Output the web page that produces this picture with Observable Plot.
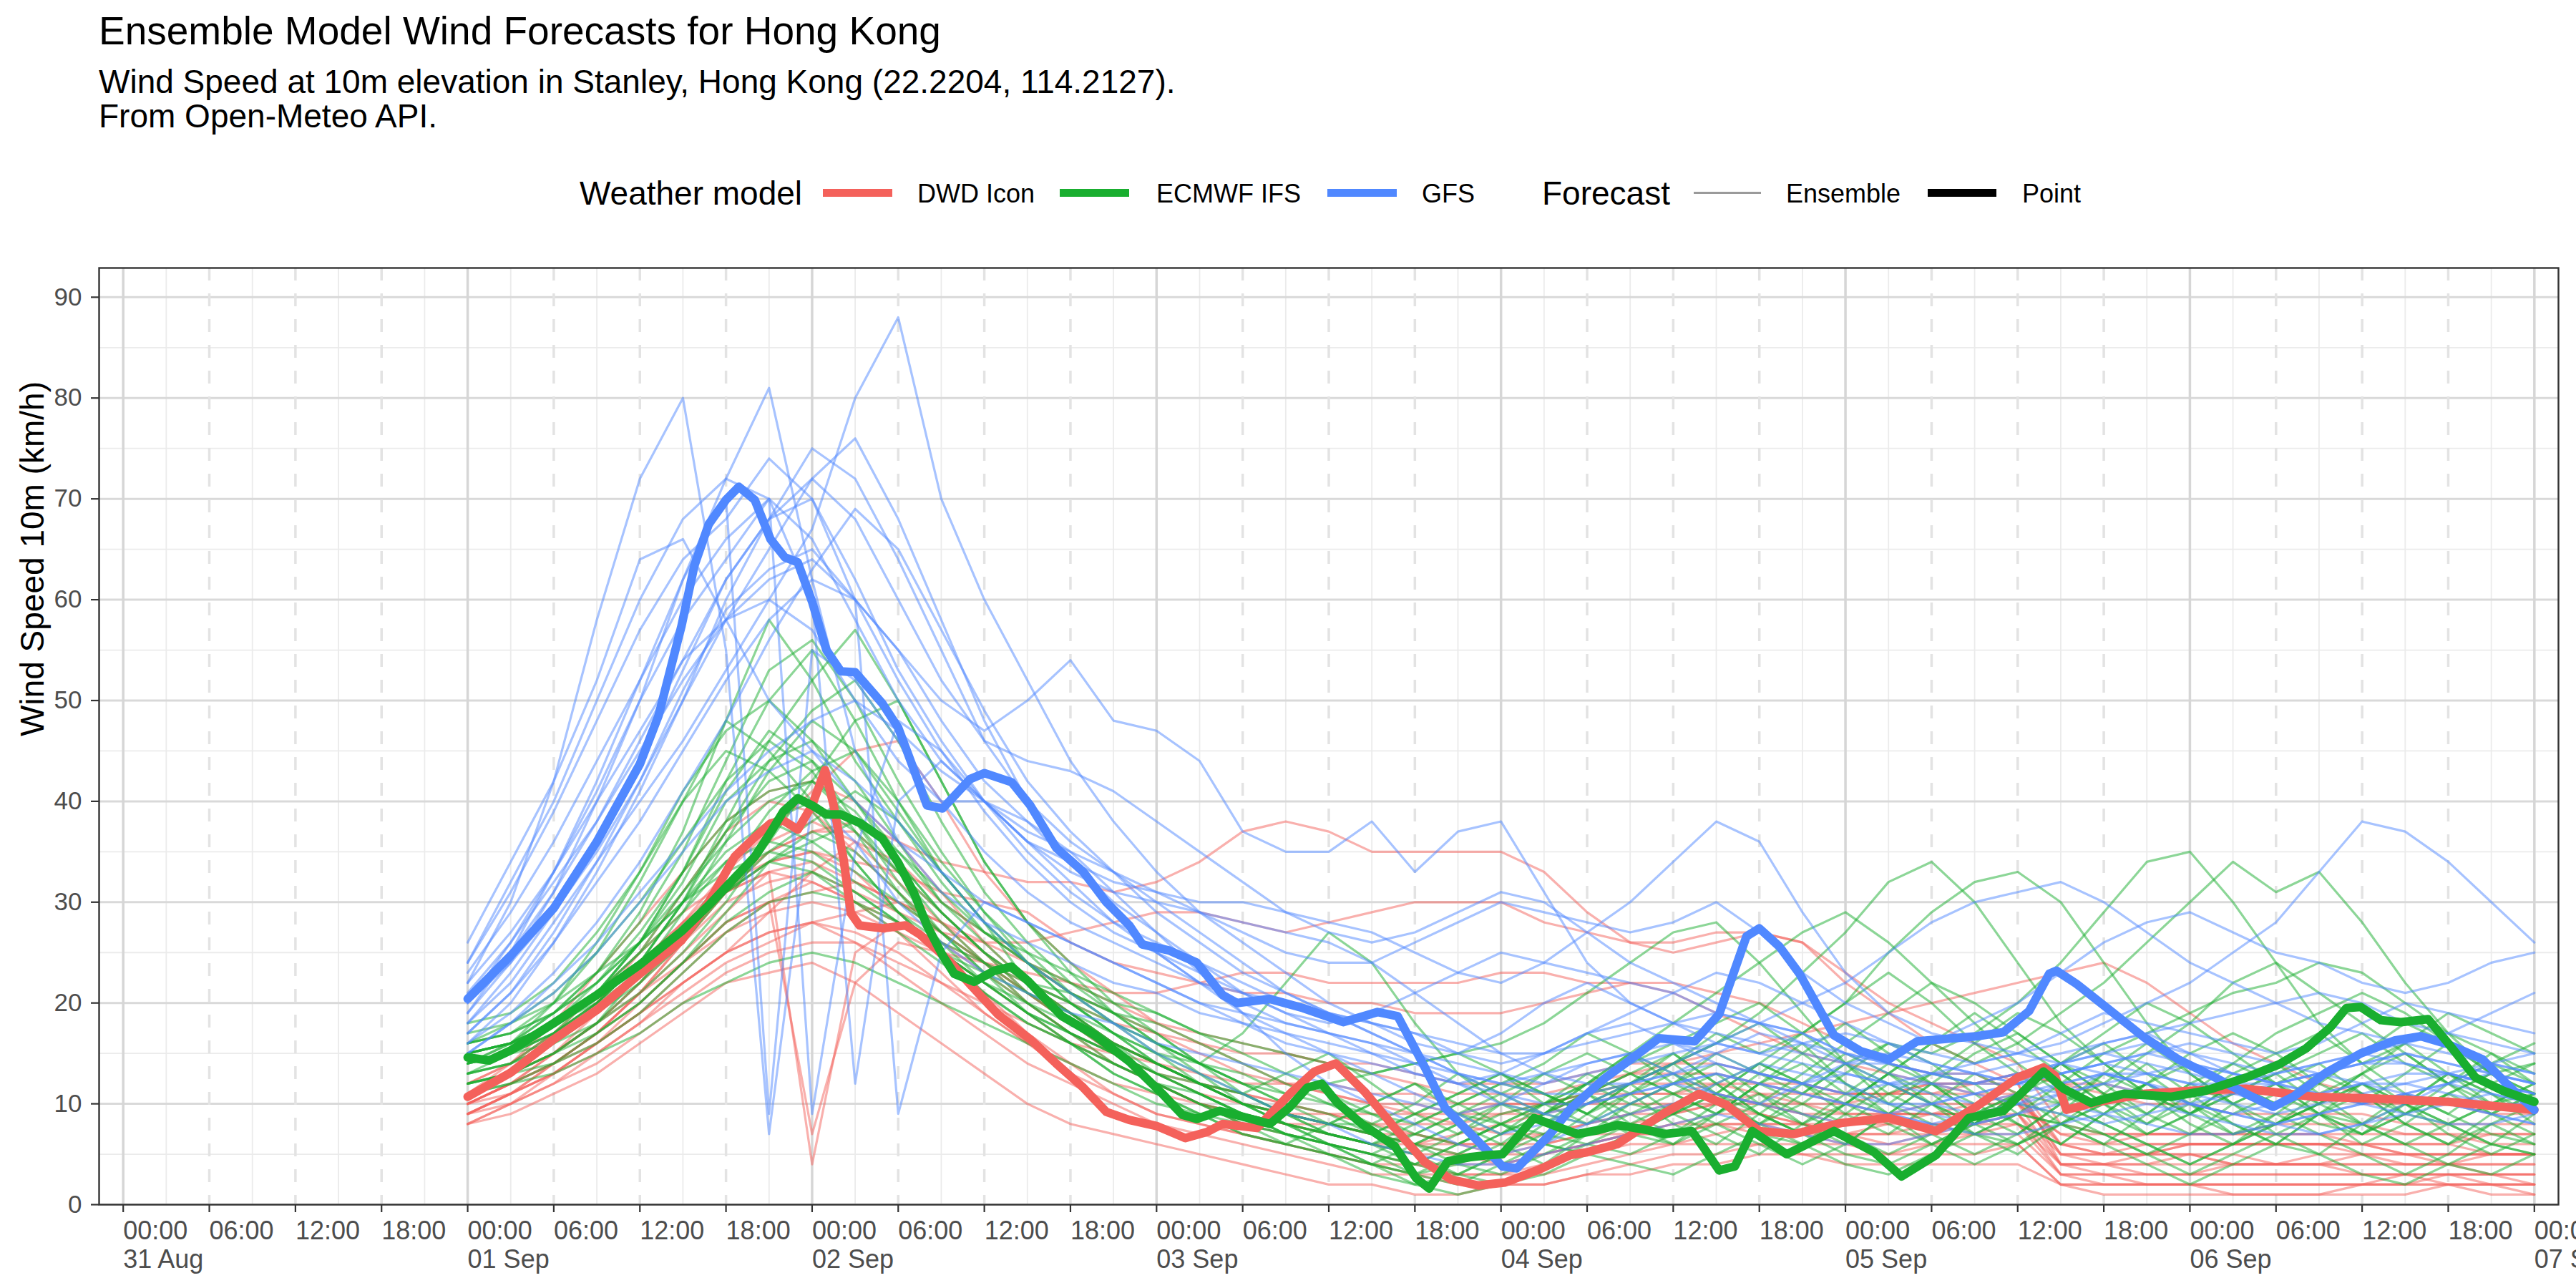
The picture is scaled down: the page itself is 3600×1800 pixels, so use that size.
<!DOCTYPE html>
<html>
<head>
<meta charset="utf-8">
<script src="https://cdn.jsdelivr.net/npm/d3@7"></script>
<script src="https://cdn.jsdelivr.net/npm/@observablehq/plot@0.6"></script>
<style>
  html, body { margin:0; padding:0; background:#fff; overflow:hidden; }
  #page { position:relative; width:3600px; height:1800px; font-family:"Liberation Sans", Arial, Helvetica, sans-serif; color:#000; }
  #header { position:relative; width:3600px; height:330px; }
  .t { position:absolute; white-space:nowrap; line-height:1; }
  .sw { position:absolute; }
  #chart svg { display:block; }
</style>
</head>
<body>
<div id="page">
  <div id="header"></div>
  <div id="chart"></div>
</div>
<script>
// ---------------- Texts ----------------
const titleText = "Ensemble Model Wind Forecasts for Hong Kong";
const subtitleLines = ["Wind Speed at 10m elevation in Stanley, Hong Kong (22.2204, 114.2127).", "From Open-Meteo API."];
const yAxisTitle = "Wind Speed 10m (km/h)";
const modelLegendTitle = "Weather model";
const forecastLegendTitle = "Forecast";

// ---------------- Categories ----------------
const models = ["DWD Icon", "ECMWF IFS", "GFS"];
const modelColors = ["#F4615B", "#19AE2F", "#5088FF"];
const forecastTypes = ["Ensemble", "Point"];
const yTicks = [0, 10, 20, 30, 40, 50, 60, 70, 80, 90];

// Ensemble members: 3-hourly values from 01 Sep 00:00 to 07 Sep 00:00 (km/h)
const ensembleHours = [0,3,6,9,12,15,18,21,24,27,30,33,36,39,42,45,48,51,54,57,60,63,66,69,72,75,78,81,84,87,90,93,96,99,102,105,108,111,114,117,120,123,126,129,132,135,138,141,144];

const dwdEnsemble = [
  [10,12,15,19,23,28,33, 37,41,45,46,40,33,28, 24,21,18,16,14,12,11, 10,9,8,7,7,8,9, 10,11,10,9,8,8,9, 10,11,5,4,4,5,5, 4,4,5,5,4,4,4],
  [11,13,16,20,24,28,32, 35,37,38,36,34,33,32, 32,31,32,34,37,38,37, 35,35,35,35,33,29,26, 26,27,27,26,22,19,16, 14,12,6,5,5,5,4, 4,4,4,4,4,3,3],
  [9,11,14,17,21,25,29, 33,4,25,28,26,23,20, 17,15,13,12,10,9,8, 7,6,5,5,6,7,7, 8,8,7,7,6,6,7, 7,7,3,3,2,2,2, 2,2,2,3,3,2,2],
  [10,12,14,17,20,24,28, 30,7,22,26,25,22,19, 16,14,12,10,9,8,8, 7,7,6,6,7,8,9, 9,10,9,8,8,9,10, 10,10,4,4,5,5,4, 4,5,5,4,4,5,5],
  [12,14,17,21,25,29,32, 34,35,34,33,31,30,29, 26,24,23,22,21,21,20, 20,19,19,19,20,21,22, 22,21,20,18,16,14,13, 13,11,6,5,5,6,6, 6,6,5,5,5,5,5],
  [11,13,15,18,21,24,27, 29,30,29,27,25,24,23, 22,21,21,22,23,23,22, 22,22,22,23,23,22,22, 21,19,17,15,14,13,12, 11,10,7,6,6,6,6, 6,6,6,6,6,5,5],
  [9,11,13,16,19,22,25, 27,28,27,25,22,19,16, 14,12,11,10,9,8,7, 6,6,7,8,9,11,13, 14,15,16,17,18,19,20, 21,22,23,24,22,19,16, 14,12,11,10,10,9,9],
  [10,12,15,18,22,27,31, 34,35,33,29,25,21,17, 14,11,9,8,7,6,5, 4,3,3,3,4,5,6, 6,7,8,8,7,7,8, 8,9,3,2,2,2,2, 2,2,2,2,3,3,2],
  [9,11,13,16,20,24,28, 30,31,32,30,27,24,21, 18,15,12,10,8,7,6, 5,4,4,4,5,6,7, 8,9,9,8,7,6,6, 7,8,4,4,3,3,4, 4,4,3,3,3,3,3],
  [11,13,16,20,25,31,37, 40,39,35,31,27,24,21, 18,16,14,12,11,10,9, 8,7,6,6,6,7,8, 9,10,11,11,10,9,9, 9,10,6,6,7,7,7, 7,7,6,6,6,7,7],
  [8,10,12,15,18,22,25, 27,28,26,23,20,17,14, 12,10,8,7,6,5,4, 3,3,2,2,2,3,3, 4,4,5,5,4,4,4, 4,4,2,1,1,1,1, 1,1,1,1,2,2,1],
  [12,14,17,20,24,28,31, 33,32,30,28,26,24,22, 20,18,17,16,15,15,14, 14,13,12,12,12,13,14, 14,14,13,12,11,11,11, 12,13,12,12,11,11,11, 11,11,10,10,10,10,10],
  [9,10,12,14,17,20,23, 25,26,26,24,22,20,18, 16,15,14,13,12,12,12, 11,11,10,10,10,11,11, 11,12,12,11,11,11,12, 12,12,4,3,3,3,3, 3,3,3,3,3,3,3],
  [10,12,14,17,21,26,31, 35,37,37,33,29,25,21, 18,15,13,11,10,9,9, 9,9,9,10,10,10,11, 11,11,10,10,9,9,9, 9,9,5,5,5,6,6, 6,6,6,5,5,5,5],
  [11,13,15,18,22,26,30, 32,33,31,29,27,26,26, 27,28,29,29,28,27,28, 29,30,30,30,28,27,26, 25,26,27,26,23,20,18, 16,14,8,7,7,7,7, 7,7,7,7,7,6,6],
  [8,9,11,13,16,19,22, 23,24,22,19,16,13,10, 8,7,6,5,4,3,2, 2,1,1,2,2,3,4, 5,5,6,6,6,5,5, 5,6,2,2,2,2,1, 1,1,2,2,2,1,1],
  [11,14,18,23,28,33,38, 41,42,40,36,31,26,22, 19,16,14,12,11,10,9, 8,8,8,9,10,11,12, 12,12,11,10,10,11,12, 12,13,12,11,10,10,9, 9,9,9,8,8,8,8],
  [10,11,13,15,18,21,24, 26,28,29,30,28,25,22, 19,16,14,12,10,9,8, 7,6,6,5,5,6,7, 7,8,8,7,7,8,8, 8,9,4,4,4,4,4, 4,4,4,4,4,4,4],
  [9,11,14,17,21,26,31, 36,38,36,32,28,24,20, 17,14,12,10,9,8,7, 6,5,5,4,5,6,7, 7,8,8,8,7,7,7, 8,8,3,3,3,3,3, 3,3,3,3,2,2,2],
  [11,13,16,19,23,27,31, 33,34,32,30,28,26,24, 22,20,18,17,16,15,14, 13,12,11,11,11,12,13, 13,13,12,12,11,11,11, 11,11,5,5,6,6,6, 6,6,6,5,5,5,5],
  [8,10,13,16,19,23,27, 30,32,30,27,23,19,16, 13,11,9,8,7,6,5, 4,4,3,3,3,4,5, 6,6,6,5,5,5,6, 6,6,2,2,2,2,2, 2,2,2,2,2,2,2],
  [10,12,14,16,19,22,25, 29,33,36,34,30,27,24, 21,19,17,15,13,12,11, 10,10,9,9,9,10,10, 10,10,10,9,9,9,9, 9,10,7,7,7,7,7, 8,8,8,7,7,7,7]
];

const ecmwfEnsemble = [
  [15,16,19,23,29,37,48, 58,52,44,38,32,27,24, 21,19,17,14,12,10,9, 7,6,8,10,9,11,13, 11,9,12,10,8,11,13, 12,9,8,10,12,9,7, 8,10,12,9,8,10,9],
  [14,15,18,21,26,33,42, 50,55,48,40,33,28,22, 20,17,15,13,10,8,6, 5,4,6,8,7,10,12, 9,11,14,12,9,7,10, 13,11,8,6,9,12,10, 7,5,8,11,9,7,6],
  [13,15,17,20,24,30,37, 44,49,52,46,38,31,26, 22,19,16,14,11,9,7, 6,5,3,5,8,11,9, 7,10,13,16,12,9,6, 8,11,14,12,9,7,10, 12,9,6,8,11,13,10],
  [15,16,18,21,25,29,34, 38,40,37,33,28,24,20, 17,14,12,11,9,8,6, 4,3,5,7,9,8,11, 13,10,8,6,9,12,10, 7,5,8,11,14,11,8, 6,9,12,10,7,5,7],
  [16,17,20,25,32,40,48, 45,40,34,29,25,22,20, 18,16,14,12,11,9,8, 10,12,9,7,10,13,11, 8,6,9,12,15,13,10, 8,11,13,10,7,9,12, 14,11,8,10,13,11,9],
  [12,13,15,18,22,27,33, 39,43,45,40,34,29,25, 21,18,15,12,10,8,7, 6,5,7,9,10,11,12, 14,16,19,23,27,32,34, 30,24,18,14,11,9,12, 10,13,11,8,6,8,10],
  [14,15,17,20,24,30,35, 38,36,33,30,27,24,21, 19,16,14,12,10,8,7, 6,8,10,12,11,9,11, 14,17,15,17,20,25,29, 32,33,30,24,18,13,10, 12,14,11,9,12,15,12],
  [13,14,16,18,21,25,30, 36,42,48,50,42,34,28, 24,20,17,14,12,10,8, 7,6,4,3,5,7,9, 11,13,10,8,11,14,12, 9,7,10,13,11,8,6, 8,11,13,10,8,6,9],
  [15,16,18,22,26,31,36, 40,42,39,34,29,25,22, 19,16,14,12,10,9,8, 7,9,11,13,10,8,10, 12,15,13,11,14,16,15, 17,20,24,29,34,35,30, 24,18,14,16,13,10,12],
  [12,13,14,17,20,24,29, 34,37,35,31,27,23,20, 17,15,13,11,9,7,6, 5,4,6,8,10,12,10, 9,12,14,12,10,13,16, 14,16,19,22,26,30,34, 31,33,28,22,17,13,10],
  [11,12,14,16,19,23,27, 30,31,30,28,25,22,19, 16,14,12,10,8,7,5, 4,3,2,4,6,5,7, 9,7,5,8,10,8,6, 4,6,8,7,5,3,5, 7,9,8,6,4,3,5],
  [16,17,19,22,27,33,38, 41,42,38,33,29,25,22, 20,18,16,14,12,11,12, 13,14,15,16,18,21,24, 27,28,24,19,14,10,8, 7,9,12,15,17,19,21, 22,24,23,20,17,15,13],
  [17,18,20,23,26,30,34, 36,35,32,29,26,24,22, 21,19,18,16,14,12,10, 8,6,5,7,9,11,13, 15,12,9,7,10,13,11, 8,11,14,16,13,10,7, 9,12,15,18,16,13,11],
  [14,16,20,26,33,41,47, 50,46,40,34,29,25,21, 18,15,12,10,8,7,6, 5,7,9,11,13,15,13, 11,9,12,14,11,9,12, 15,17,14,11,9,12,14, 17,19,21,19,16,13,11],
  [12,13,15,17,20,24,28, 31,33,31,28,25,22,19, 17,15,13,12,10,9,7, 6,4,3,2,4,6,5, 7,9,11,9,7,5,7, 9,11,10,8,6,4,6, 8,10,12,10,8,6,5],
  [15,16,18,21,26,32,40, 44,46,42,36,30,27,25, 23,21,19,17,15,13,11, 9,7,6,8,10,12,14, 16,18,20,17,14,11,9, 7,6,8,10,12,14,12, 10,8,7,9,11,13,14],
  [14,15,17,20,24,30,38, 46,52,57,50,42,34,28, 23,19,16,13,11,9,8, 7,9,11,13,11,9,12, 15,12,9,7,10,13,16, 19,16,13,10,8,11,14, 12,9,7,10,13,11,8],
  [11,12,13,15,17,20,22, 24,25,24,22,20,18,16, 14,12,10,9,7,6,5, 3,2,1,2,3,5,4, 3,5,7,6,4,3,5, 7,9,8,6,4,2,4, 6,5,3,2,4,6,5],
  [16,17,19,22,26,30,33, 35,34,31,28,25,23,21, 19,17,15,14,17,22,27, 24,18,13,10,8,10,12, 14,16,18,15,12,10,13, 16,19,17,14,11,9,11, 13,15,17,14,12,10,11],
  [18,19,22,27,33,40,45, 43,39,34,29,25,21,18, 16,13,11,9,8,6,5, 4,6,8,6,4,7,10, 12,14,11,8,6,9,12, 10,8,6,9,12,15,17, 15,12,10,13,16,14,12],
  [13,14,16,19,23,27,31, 34,36,38,35,31,27,24, 22,20,19,17,16,15,14, 13,14,15,13,11,9,7, 6,8,10,13,16,19,22, 20,17,14,11,8,10,13, 15,17,14,11,9,12,14],
  [15,16,18,21,25,31,37, 42,44,40,35,30,26,22, 19,16,13,11,9,7,6, 5,3,4,6,9,12,15, 18,21,24,27,29,26,22, 18,14,11,9,7,9,11, 13,10,8,6,8,10,12],
  [13,14,17,21,26,33,41, 47,44,38,32,27,23,19, 16,13,11,9,7,6,8, 10,12,10,8,6,9,12, 14,11,8,10,13,16,14, 11,8,6,9,12,10,8, 6,9,11,8,6,9,11],
  [14,15,16,19,22,26,31, 35,38,41,38,33,28,24, 20,17,14,12,11,13,15, 12,9,7,10,13,11,8, 6,9,12,15,18,15,12, 9,11,14,17,20,18,15, 12,10,13,16,19,17,15],
  [16,18,21,25,30,36,42, 46,43,37,31,26,22,19, 17,15,13,11,9,7,6, 4,2,3,5,7,6,8, 10,8,6,4,6,9,7, 5,7,10,8,6,4,6, 9,7,5,3,5,8,6],
  [12,13,15,18,23,29,36, 43,48,45,39,33,28,24, 21,18,16,14,13,11,10, 9,8,10,12,14,17,15, 13,11,14,17,20,23,20, 16,13,10,12,15,18,22, 24,21,18,15,12,14,16],
  [15,16,18,20,23,27,31, 34,33,30,27,24,21,18, 16,14,12,10,9,8,7, 6,7,9,8,6,5,7, 9,11,9,7,5,4,6, 8,10,9,7,5,7,9, 11,9,7,9,11,9,7],
  [14,16,19,23,28,35,44, 53,56,50,42,35,29,24, 20,17,14,12,10,9,8, 8,10,13,11,9,12,15, 12,10,8,11,14,12,10, 8,6,9,13,16,13,10, 8,10,13,15,12,9,11]
];

const gfsEnsemble = [
  [22,30,42,58,72,80,55, 7,40,36,30,26,23,21, 19,18,16,15,14,13,12, 11,10,9,10,12,14,15, 13,11,10,12,13,12,10, 9,10,11,12,11,10,9, 10,11,12,11,10,9,8],
  [19,25,33,42,52,62,72, 81,62,45,36,31,28,26, 24,22,21,19,18,17,16, 15,13,12,13,15,17,18, 16,14,13,12,14,15,14, 13,12,11,12,13,14,13, 12,13,14,15,14,13,12],
  [18,22,28,34,40,46,53, 60,67,80,88,70,60,52, 44,38,33,29,26,23,20, 18,16,15,17,20,22,20, 18,16,15,16,17,16,14, 13,12,14,16,17,15,13, 12,13,14,15,14,13,12],
  [21,26,32,38,45,52,58, 62,64,60,55,50,47,50, 54,48,47,44,37,35,35, 38,33,37,38,31,24,20, 18,17,16,15,14,14,13, 12,13,14,15,14,13,12, 12,13,14,14,13,12,11],
  [24,32,40,50,60,68,72, 70,66,58,50,44,40,36, 34,32,31,30,30,29,28, 27,25,23,22,24,27,30, 34,38,36,29,23,19,17, 16,15,14,13,13,12,12, 13,14,15,14,13,12,11],
  [17,21,26,32,38,45,52, 58,62,60,55,48,42,38, 34,30,27,24,21,19,17, 15,14,13,12,13,14,15, 16,15,13,12,11,12,13, 14,15,16,18,20,22,25, 28,33,38,37,34,30,26],
  [23,29,36,44,52,60,66, 70,9,35,48,45,40,36, 33,31,30,29,28,27,26, 24,21,18,15,13,12,12, 13,15,17,16,14,12,11, 10,11,12,13,12,11,10, 9,10,11,12,11,10,10],
  [20,25,31,38,46,54,62, 68,70,60,9,25,30,28, 26,24,22,20,18,16,15, 14,13,12,11,10,10,11, 12,13,12,11,10,9,8, 9,10,12,13,12,10,9, 8,9,10,11,12,11,10],
  [16,20,26,33,41,50,60, 68,75,72,64,55,46,40, 36,33,30,27,24,21,19, 17,15,13,12,11,11,12, 13,14,13,12,11,10,10, 11,12,13,14,13,12,11, 10,11,12,13,13,12,11],
  [26,34,42,52,64,66,58, 50,45,40,36,33,30,28, 26,24,22,20,19,18,17, 16,15,14,13,12,13,14, 15,16,15,14,13,12,12, 11,12,13,14,15,14,13, 12,11,10,11,12,13,12],
  [19,24,31,40,50,62,70, 9,55,52,46,40,35,31, 28,26,24,22,21,20,19, 18,17,16,15,15,16,17, 18,19,18,17,15,14,13, 12,12,13,14,15,16,15, 14,13,12,12,13,14,13],
  [15,18,22,26,31,36,41, 45,48,50,47,43,40,37, 35,33,31,29,27,25,24, 24,26,28,30,29,28,27, 28,30,27,23,20,18,16, 18,20,23,26,28,29,27, 25,24,22,21,22,24,25],
  [20,24,29,35,42,50,58, 65,72,76,68,58,48,40, 34,29,25,22,19,17,15, 13,11,9,7,8,10,11, 12,11,10,9,8,9,10, 11,10,9,8,9,10,11, 12,11,10,9,8,8,9],
  [17,21,27,34,42,51,59, 63,65,60,52,45,39,34, 30,27,25,23,21,19,18, 19,21,23,25,24,23,22, 21,19,18,20,22,25,28, 30,31,32,30,27,24,22, 20,18,17,16,15,14,13],
  [22,27,33,40,47,54,58, 60,57,50,44,40,40,38, 35,31,27,23,19,15,12, 10,8,6,5,6,8,10, 12,13,12,11,10,9,8, 7,7,8,9,10,9,8, 7,7,8,9,10,11,10],
  [18,23,29,36,44,53,62, 68,72,68,60,52,46,44, 43,41,38,35,32,29,27, 26,27,29,31,30,27,24, 22,20,18,16,15,14,13, 13,14,15,16,17,18,19, 20,21,20,18,17,19,21],
  [15,18,21,25,30,35,40, 43,45,42,38,33,28,24, 21,18,15,13,11,9,8, 6,5,4,4,5,6,7, 8,9,8,7,6,6,7, 8,9,10,9,8,7,7, 8,9,10,11,10,9,8],
  [20,26,33,41,50,58,64, 70,60,12,40,44,40,36, 32,28,25,22,20,18,17, 16,14,12,10,9,10,12, 14,16,18,17,15,13,12, 12,13,14,15,16,15,14, 13,14,15,16,17,16,15],
  [24,31,39,48,57,64,68, 74,70,62,53,46,40,35, 31,28,26,24,22,20,19, 18,17,15,14,15,17,19, 21,23,22,20,18,16,15, 14,15,17,19,18,17,16, 15,16,18,20,19,18,17],
  [16,19,23,28,34,41,48, 56,63,69,65,57,49,42, 37,33,29,26,23,21,19, 17,15,13,11,9,8,9, 10,12,14,13,12,10,9, 8,9,11,13,12,10,9, 8,7,8,10,12,14,15]
];

// Point (deterministic) forecasts: hours after 01 Sep 00:00 and speed (km/h)
const dwdPointHours = [0,3,6,9,12,14.9,16.8,18.6,19.9,21.1,22,23,24,24.9,25.5,26.2,26.7,27.3,28.9,30.5,31.5,33.6,35.1,37,39.2,41,42.9,44.5,46.1,48,50,51.5,52.6,55,57.3,59,60.5,62.5,64.6,66.7,68.5,70.4,72.3,74.7,76.8,78,80.1,83.4,85.8,87.7,90,92.4,95.7,99,102.3,105.1,108,109.8,110.6,111.4,113.6,116.9,120.2,123.9,128.6,133.3,138,144];
const dwdPointSpeed = [10.7,13.1,16.4,19.3,22.9,26.2,30.0,34.5,36.3,37.8,38.1,37.2,39.6,43.1,39.6,34.2,28.9,27.7,27.4,27.7,26.8,24.1,21.7,18.8,16.4,14.0,11.6,9.2,8.4,7.8,6.6,7.2,8.0,7.6,11.0,13.2,14.0,11.2,7.6,4.2,2.5,1.9,2.2,3.5,4.9,5.2,6.0,9.1,11.0,9.9,7.3,7.0,8.1,8.6,7.3,9.7,12.6,13.6,12.8,9.4,10.2,11.0,11.3,11.5,10.7,10.5,10.2,9.4];

const ecmwfPointHours = [0,1.5,3,6,9,12,14.9,16.8,18.6,20,21.1,22,23,24,25,26,27.4,28.9,30,31.1,32,33.1,33.9,35.3,36.7,37.9,39.1,41.4,43.7,46.1,48.4,49.8,50.8,52.4,53.8,55.9,57.3,58.5,59.5,60.6,62.3,64.6,66.1,67,68.3,69.8,71,72.1,74.3,77.3,78.8,80.1,82.2,83.4,85.3,86.1,87.2,88.3,89.5,91.9,95.2,98,99.9,102.3,104.6,107,109.8,111.2,113.1,115.4,118.7,121.1,123.9,126.2,128.1,129.8,130.9,131.9,133.3,134.7,136.6,138,139.9,141.8,144];
const ecmwfPointSpeed = [14.6,14.3,15.3,18.0,20.8,23.8,27.1,29.7,32.4,34.5,36.9,39.0,40.3,39.6,38.7,38.7,37.8,36.3,33.9,30.9,27.7,24.7,22.9,22.1,23.2,23.6,22.1,18.7,16.8,14.2,11.0,8.9,8.5,9.3,8.8,8.0,9.7,11.6,12.0,10.1,8.0,5.8,2.6,1.6,4.3,4.7,4.9,5.0,8.6,7.0,7.4,7.9,7.4,7.0,7.3,5.7,3.4,3.8,7.3,5.0,7.3,5.2,2.8,4.9,8.6,9.3,13.2,11.5,10.1,11.0,10.7,11.3,12.6,13.9,15.5,17.6,19.5,19.6,18.3,18.1,18.4,16.0,12.6,11.3,10.2];

const gfsPointHours = [0,3,6,9,12,13.3,14.9,15.8,16.8,18,18.9,20,21.1,22.1,23,24,25,26,27,28.9,30,31.1,32,33.1,35,36,37.9,39.2,41,42.9,44.5,46.1,47,48.9,50.8,52.6,53.6,55.9,58.2,61,63.4,64.8,66.7,68.1,70.8,72.1,73.1,75.3,76.9,79.2,81.6,83,85.5,87.2,89.1,90,91.4,92.8,95.2,97.1,99,101,105.1,107,108.8,110.2,110.7,112.1,114.5,116.8,119.2,121.5,123.9,125.8,127.2,129.5,131.9,134.3,136.1,138,140.4,142.2,144];
const gfsPointSpeed = [20.4,24.7,29.4,36.0,43.7,48.5,57.4,63.4,67.5,69.9,71.2,69.9,66.0,64.2,63.7,59.8,55.0,52.9,52.8,49.7,47.3,43.1,39.6,39.3,42.2,42.8,41.9,39.6,35.4,33.0,30.0,27.7,25.8,25.2,24.0,20.8,20.0,20.4,19.5,18.1,19.1,18.7,13.6,9.6,5.7,3.8,3.6,6.8,9.6,12.5,15.0,16.5,16.2,18.9,26.6,27.4,25.6,22.9,16.8,15.2,14.4,16.2,16.7,17.1,19.2,22.9,23.2,21.9,19.2,16.6,14.4,12.8,11.0,9.7,10.7,13.1,15.0,16.3,16.7,15.9,14.4,11.8,9.4];

// ---------------- Build tables ----------------
const HOUR = 3600e3;
const forecastStart = Date.UTC(2023, 8, 1, 0);
const axisStart = new Date(Date.UTC(2023, 7, 31, 0));
const axisEnd = new Date(Date.UTC(2023, 8, 7, 0));
const yMax = 92.9;

const ensembleRows = [];
[[models[0], dwdEnsemble], [models[1], ecmwfEnsemble], [models[2], gfsEnsemble]].forEach(([model, members]) => {
  members.forEach((vals, j) => vals.forEach((v, i) => ensembleRows.push({
    model, member: model + " #" + j, time: new Date(forecastStart + ensembleHours[i] * HOUR), speed: v
  })));
});

const pointRows = [];
[[models[0], dwdPointHours, dwdPointSpeed], [models[2], gfsPointHours, gfsPointSpeed], [models[1], ecmwfPointHours, ecmwfPointSpeed]].forEach(([model, hrs, vals]) => {
  hrs.forEach((h, i) => pointRows.push({model, time: new Date(forecastStart + h * HOUR), speed: vals[i]}));
});

// ---------------- Header: title, subtitle, legend ----------------
const header = document.getElementById("header");
function addText(txt, left, top, size, extra = "") {
  const d = document.createElement("div");
  d.className = "t";
  d.textContent = txt;
  d.style.cssText = `left:${left}px;top:${top}px;font-size:${size}px;${extra}`;
  header.appendChild(d);
}
function addSwatch(left, top, w, h, color) {
  const d = document.createElement("div");
  d.className = "sw";
  d.style.cssText = `left:${left}px;top:${top}px;width:${w}px;height:${h}px;background:${color};`;
  header.appendChild(d);
}
addText(titleText, 138, 16, 55);
addText(subtitleLines.join("\n"), 138, 90, 46, "line-height:48px;white-space:pre;");
addText(modelLegendTitle, 810, 247, 46);
const swLeft = [1150, 1481, 1855], labLeft = [1282, 1616, 1987];
models.forEach((m, i) => { addSwatch(swLeft[i], 264, 97, 11, modelColors[i]); addText(m, labLeft[i], 252.5, 36); });
addText(forecastLegendTitle, 2155, 247, 46);
addSwatch(2367, 268, 94, 3, "#9A9A9A");
addText(forecastTypes[0], 2496, 252.5, 36);
addSwatch(2694, 264, 96, 11, "#000000");
addText(forecastTypes[1], 2826, 252.5, 36);

// ---------------- Grid helpers ----------------
const pad = 1.68 * HOUR;
const xDomain = [new Date(+axisStart - pad), new Date(+axisEnd + pad)];
const threeHourly = d3.utcHour.every(3).range(axisStart, new Date(+axisEnd + 1));
const dayLines = threeHourly.filter(d => d.getUTCHours() === 0);
const dashLines = threeHourly.filter(d => d.getUTCHours() % 6 === 0 && d.getUTCHours() !== 0);
const minorLines = threeHourly.filter(d => d.getUTCHours() % 6 === 3);
const xTicks = threeHourly.filter(d => d.getUTCHours() % 6 === 0);
const minorY = yTicks.map(v => v + 5).filter(v => v < yMax);
const fmtHM = d3.utcFormat("%H:%M"), fmtDay = d3.utcFormat("%d %b");

const chart = Plot.plot({
  width: 3600,
  height: 1470,
  marginTop: 44,
  marginBottom: 117,
  marginLeft: 138,
  marginRight: 25,
  style: {fontFamily: "'Liberation Sans', Arial, Helvetica, sans-serif", background: "white", overflow: "visible"},
  x: {type: "utc", domain: xDomain},
  y: {domain: [0, yMax]},
  color: {domain: models, range: modelColors},
  marks: [
    Plot.ruleY(minorY, {stroke: "#EBEBEB", strokeWidth: 1.8}),
    Plot.ruleX(minorLines, {stroke: "#EBEBEB", strokeWidth: 1.8}),
    Plot.ruleY(yTicks, {stroke: "#D9D9D9", strokeWidth: 3}),
    Plot.ruleX(dashLines, {stroke: "#E3E3E3", strokeWidth: 3.5, strokeDasharray: "18,18"}),
    Plot.ruleX(dayLines, {stroke: "#D6D6D6", strokeWidth: 3.5}),
    Plot.line(ensembleRows, {x: "time", y: "speed", z: "member", stroke: "model", strokeOpacity: 0.5, strokeWidth: 3.2, strokeLinejoin: "round"}),
    Plot.line(pointRows, {x: "time", y: "speed", z: "model", stroke: "model", strokeWidth: 12, strokeLinejoin: "round"}),
    Plot.frame({stroke: "#333333", strokeWidth: 2.4}),
    Plot.axisY(yTicks, {tickSize: 11, tickPadding: 13, fontSize: 35, color: "#4D4D4D", stroke: "#333333", strokeWidth: 2.2, label: null}),
    Plot.axisX(xTicks, {tickSize: 11, tickPadding: 9, fontSize: 36, color: "#4D4D4D", stroke: "#333333", strokeWidth: 2.2, textAnchor: "start", lineHeight: 1.11, label: null,
      tickFormat: d => fmtHM(d) + (d.getUTCHours() === 0 ? "\n" + fmtDay(d) : "")}),
    Plot.text([yAxisTitle], {text: d => d, frameAnchor: "left", rotate: -90, dx: -92, fontSize: 46, fill: "#000"})
  ]
});
document.getElementById("chart").appendChild(chart);
</script>
</body>
</html>
